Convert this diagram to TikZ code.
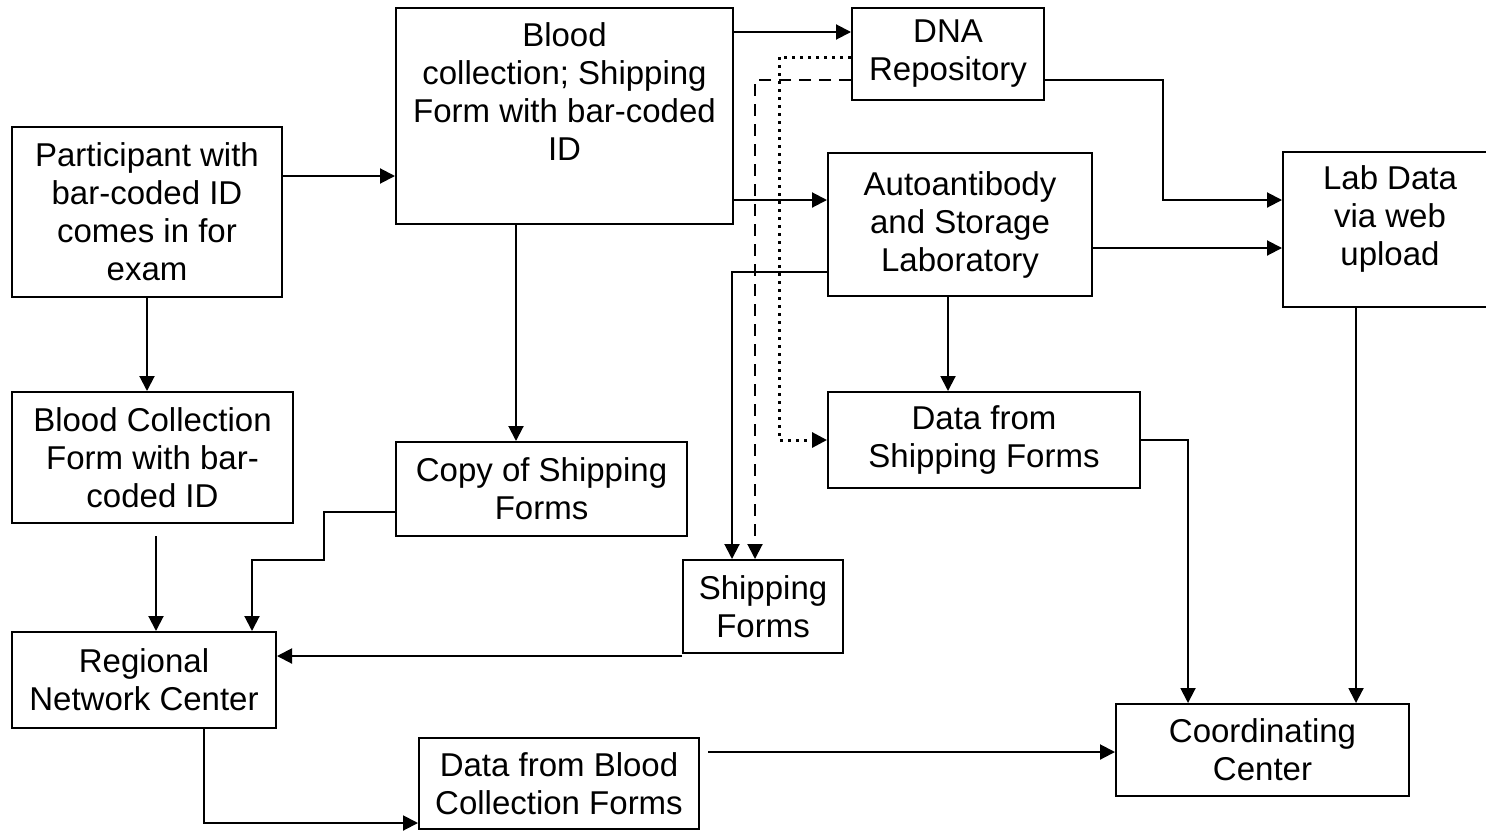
\documentclass[tikz,border=0pt]{standalone}
\usepackage{fontspec}
\setmainfont{Liberation Sans}
\usetikzlibrary{arrows.meta}
\begin{document}
\begin{tikzpicture}[x=0.5pt,y=-0.5pt,
  box/.style={draw,line width=1pt,inner sep=0pt,align=center,font=\fontsize{16.5}{19}\selectfont},
  conn/.style={line width=1pt,-{Triangle[length=7.5pt,width=7.5pt]}},
  dashconn/.style={conn,dash pattern=on 6pt off 4pt},
  dotconn/.style={line width=1.5pt,dash pattern=on 1.5pt off 2.5pt,-{Triangle[length=7.5pt,width=7.5pt]}}]
\useasboundingbox (0,0) rectangle (1486,830);
% boxes
\node[box,minimum width=135pt,minimum height=85pt] (part) at (147,212) {Participant with\\bar-coded ID\\comes in for\\exam};
\node[box,minimum width=168.5pt,minimum height=108pt,text depth=24pt] (blood) at (564.5,116) {Blood\\collection; Shipping\\Form with bar-coded\\ID};
\node[box,minimum width=96pt,minimum height=46pt] (dna) at (948,54) {DNA\\Repository};
\node[box,minimum width=132pt,minimum height=71.5pt] (auto) at (960,224.5) {Autoantibody\\and Storage\\Laboratory};
\node[box,minimum width=107pt,minimum height=77.5pt,text depth=13.5pt] (lab) at (1390,229.5) {Lab Data\\via web\\upload};
\node[box,minimum width=140.5pt,minimum height=65.5pt] (bcf) at (152.5,457.5) {Blood Collection\\Form with bar-\\coded ID};
\node[box,minimum width=145.5pt,minimum height=47pt] (copy) at (541.5,489) {Copy of Shipping\\Forms};
\node[box,minimum width=156pt,minimum height=48pt] (dsf) at (984,440) {Data from\\Shipping Forms};
\node[box,minimum width=80pt,minimum height=46.5pt] (ship) at (763,606.5) {Shipping\\Forms};
\node[box,minimum width=132pt,minimum height=48pt] (rnc) at (144,680) {Regional\\Network Center};
\node[box,minimum width=140pt,minimum height=45.5pt] (dbc) at (559,783.5) {Data from Blood\\Collection Forms};
\node[box,minimum width=146.5pt,minimum height=46pt] (cc) at (1262.5,750) {Coordinating\\Center};
% free ends
\coordinate (bcfout) at (156,536);
\coordinate (dbcout) at (708,752);
% connectors
\draw[conn] (part.east |- 0,176) -- (blood.west |- 0,176);
\draw[conn] (part.south) -- (bcf.north -| part.south);
\draw[conn] (blood.east |- 0,32) -- (dna.west |- 0,32);
\draw[conn] (blood.east |- 0,200) -- (auto.west |- 0,200);
\draw[conn] (blood.south -| 516,0) -- (copy.north -| 516,0);
\draw[conn] (dna.east |- 0,80) -| (1163,200) -- (lab.west |- 0,200);
\draw[conn] (auto.east |- 0,248) -- (lab.west |- 0,248);
\draw[dotconn] (dna.west |- 0,57) -| (779,440) -- (dsf.west);
\draw[dashconn] (dna.west |- 0,80) -| (ship.north -| 755,0);
\draw[conn] (auto.west |- 0,272) -| (ship.north -| 732,0);
\draw[conn] (auto.south -| 948,0) -- (dsf.north -| 948,0);
\draw[conn] (lab.south -| 1356,0) -- (cc.north -| 1356,0);
\draw[conn] (dsf.east) -| (cc.north -| 1188,0);
\draw[conn] (bcfout) -- (rnc.north -| bcfout);
\draw[conn] (copy.west |- 0,512) -| (324,560) -| (rnc.north -| 252,0);
\draw[conn] (ship.west |- 0,656) -- (rnc.east |- 0,656);
\draw[conn] (rnc.south -| 204,0) |- (dbc.west |- 0,823);
\draw[conn] (dbcout) -- (cc.west |- dbcout);
\end{tikzpicture}
\end{document}
